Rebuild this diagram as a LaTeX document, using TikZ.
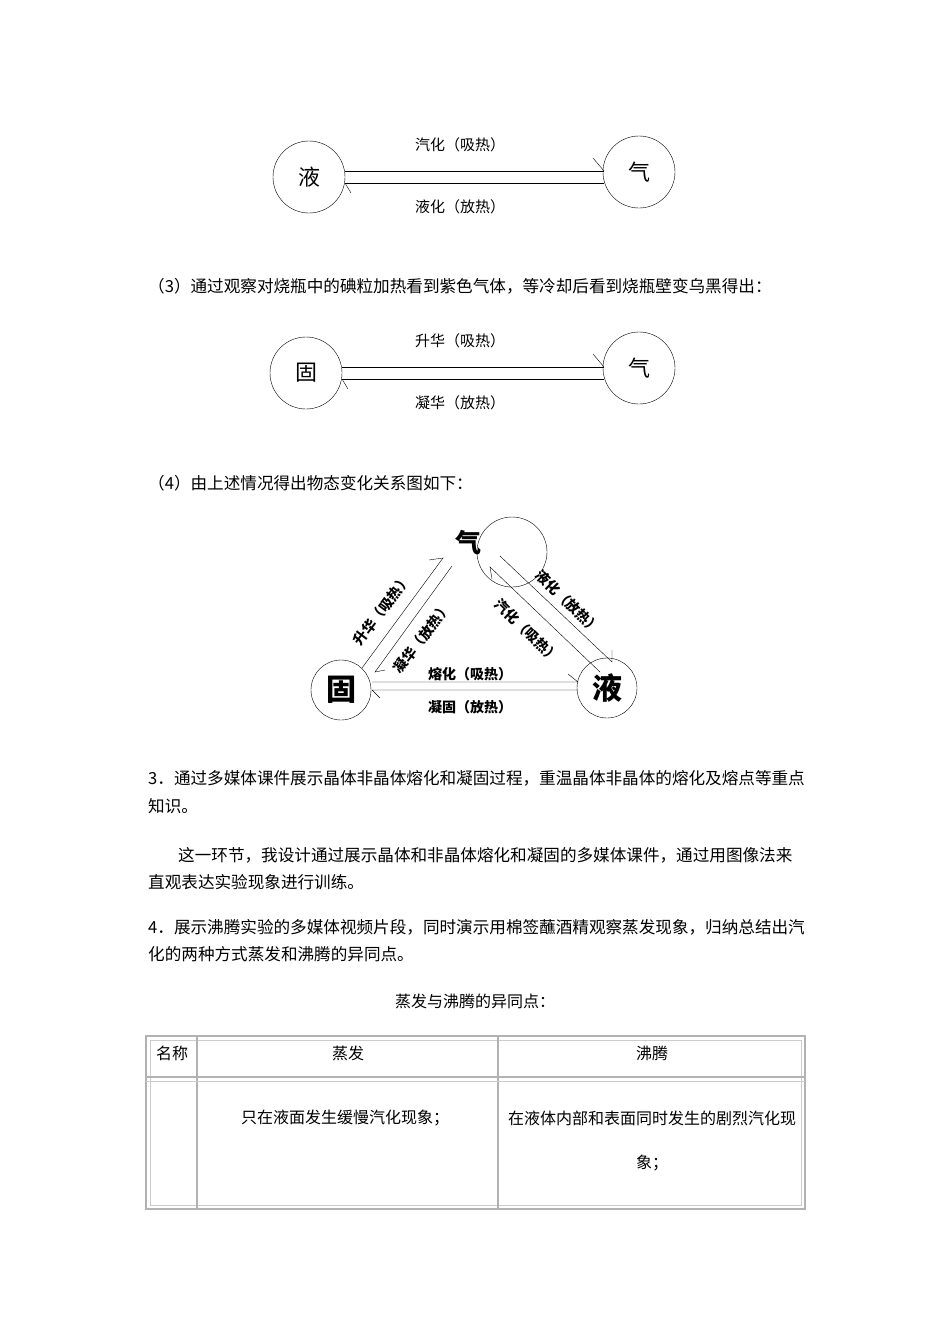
\documentclass[tikz,border=0pt]{standalone}
\usepackage{fontspec}
\setmainfont{Noto Sans CJK SC}
\begin{document}
\begin{tikzpicture}[x=1pt,y=-1pt,
  st/.style={circle,draw,minimum size=72pt,inner sep=0pt,font=\fontsize{22}{22}\selectfont},
  tst/.style={circle,draw,minimum size=60pt,inner sep=0pt,font=\fontsize{30}{30}\selectfont\bfseries},
  lab/.style={font=\fontsize{15}{15}\selectfont},
  blab/.style={inner sep=0pt,font=\fontsize{14}{14}\selectfont\bfseries},
  body/.style={anchor=west,inner sep=0pt,font=\fontsize{16.6}{16}\selectfont},
  cell/.style={inner sep=0pt,font=\fontsize{16}{16}\selectfont},
  tl/.style={draw=gray!60,line width=1.6pt}]
\useasboundingbox (0,0) rectangle (950,1344);
% diagram 1
\node[st] (ye1) at (309,177) {液};
\node[st] (qi1) at (639,172) {气};
\draw (345,171) coordinate (a1) -- (604,171) coordinate (b1);
\draw (345,183) -- (604,183);
\draw (b1) -- ++(-11,-13);
\draw (345,183) -- ++(6,10);
\node[lab] (l1) at (460,145) {汽化（吸热）};
\node[lab] (l2) at (460,207) {液化（放热）};
\node[body] (t3) at (148,286) {（3）通过观察对烧瓶中的碘粒加热看到紫色气体，等冷却后看到烧瓶壁变乌黑得出：};
% diagram 2
\node[st] (gu2) at (306,373) {固};
\node[st] (qi2) at (639,368) {气};
\draw (342,367) coordinate (b2) -- (604,367) coordinate (c2);
\draw (342,379) -- (604,379);
\draw (c2) -- ++(-11,-13);
\draw (342,379) -- ++(6,10);
\node[lab] (l3) at (460,341) {升华（吸热）};
\node[lab] (l4) at (460,403) {凝华（放热）};
\node[body] (t4) at (148,483) {（4）由上述情况得出物态变化关系图如下：};
% triangle
\draw (512,552) circle (35);
\node[inner sep=0pt,font=\fontsize{26}{26}\selectfont\bfseries] (qi3) at (468,543) {气};
\node[tst] (gu3) at (341,690) {固};
\node[tst] (ye3) at (607,688) {液};
\draw (372,682) -- (578,682) -- ++(-10,-8);
\draw (578,690) -- (372,690) -- ++(8,8);
\draw (362,668) -- (443,558) -- ++(-14,2);
\draw (452,566) -- (375,672) -- ++(10,-2);
\draw (500,556) -- (612,662) -- ++(0,-12);
\draw (600,672) -- (490,567) -- ++(2,12);
\node[blab] (m1) at (470,674) {熔化（吸热）};
\node[blab] (m2) at (470,707) {凝固（放热）};
\node[blab,rotate=53] (m3) at (382,610) {升华（吸热）};
\node[blab,rotate=53] (m4) at (422,638) {凝华（放热）};
\node[blab,rotate=-44] (m5) at (568,602) {液化（放热）};
\node[blab,rotate=-44] (m6) at (527,631) {汽化（吸热）};
% text
\node[body] at (148,778) {3．通过多媒体课件展示晶体非晶体熔化和凝固过程，重温晶体非晶体的熔化及熔点等重点};
\node[body] at (148,806) {知识。};
\node[body] at (178,855) {这一环节，我设计通过展示晶体和非晶体熔化和凝固的多媒体课件，通过用图像法来};
\node[body] at (148,882) {直观表达实验现象进行训练。};
\node[body] at (148,927) {4．展示沸腾实验的多媒体视频片段，同时演示用棉签蘸酒精观察蒸发现象，归纳总结出汽};
\node[body] at (148,954) {化的两种方式蒸发和沸腾的异同点。};
\node[cell] at (475,1001) {蒸发与沸腾的异同点：};
% table
\draw[tl] (146,1036) rectangle (805,1209);
\draw[draw=gray!40] (150,1040) rectangle (801,1205);
\draw[tl] (197,1036) -- (197,1209);
\draw[tl] (498,1036) -- (498,1209);
\draw[tl] (146,1077) -- (805,1077);
\draw[draw=gray!40] (146,1081) -- (805,1081);
\node[cell] at (172,1053) {名称};
\node[cell] at (348,1053) {蒸发};
\node[cell] at (652,1053) {沸腾};
\node[cell] at (345,1118) {只在液面发生缓慢汽化现象；};
\node[cell] at (652,1118) {在液体内部和表面同时发生的剧烈汽化现};
\node[cell] at (652,1163) {象；};
\end{tikzpicture}
\end{document}
